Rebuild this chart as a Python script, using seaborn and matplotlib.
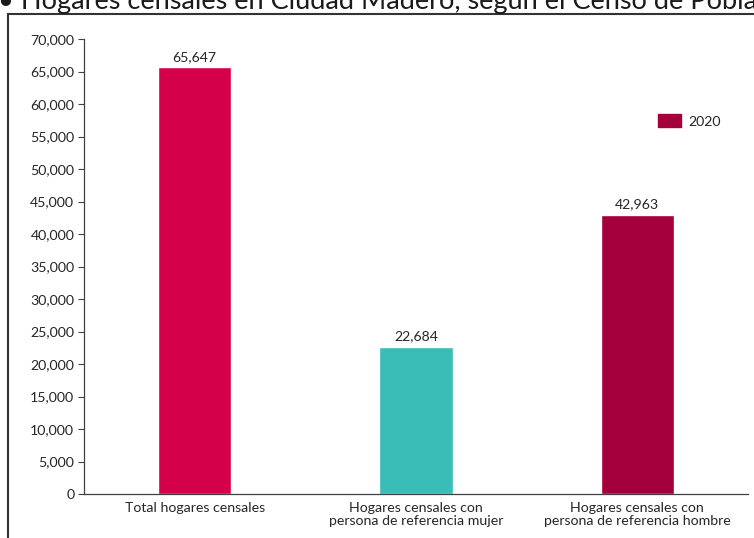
import matplotlib
matplotlib.use("Agg")
import matplotlib.pyplot as plt
import seaborn as sns
import pandas as pd
from matplotlib.patches import Patch, Rectangle
from matplotlib.ticker import FuncFormatter, MultipleLocator

categories = ["Total hogares censales",
              "Hogares censales con\npersona de referencia mujer",
              "Hogares censales con\npersona de referencia hombre"]
values = [65647, 22684, 42963]
colors = ["#D5004A", "#3BBDB7", "#A4003C"]
legend_label = "2020"
title = "• Hogares censales en Ciudad Madero, según el Censo de Población y Vivienda 2020"

sns.set_theme(style="white")
plt.rcParams['font.family'] = ['Lato', 'DejaVu Sans']

FS = 10.2
fig = plt.figure(figsize=(7.54, 5.38), dpi=100)
ax = fig.add_axes([84/754, 1-494/538, (748-84)/754, (494-39)/538])

df = pd.DataFrame({"cat": categories, "val": values})
sns.barplot(data=df, x="cat", y="val", hue="cat", palette=colors, legend=False,
            width=0.33, ax=ax, saturation=1)

for i, v in enumerate(values):
    ax.text(i, v + 700, f"{v:,}", ha="center", va="bottom", fontsize=FS, color="#262626")

ax.set_ylim(0, 70000)
ax.yaxis.set_major_locator(MultipleLocator(5000))
ax.yaxis.set_major_formatter(FuncFormatter(lambda x, p: f"{int(x):,}"))
ax.set_xlabel("")
ax.set_ylabel("")
for s in ["top", "right"]:
    ax.spines[s].set_visible(False)
for s in ["left", "bottom"]:
    ax.spines[s].set_color("#404040")
    ax.spines[s].set_linewidth(0.9)
ax.tick_params(axis="y", left=True, length=4, width=0.8, color="#404040",
               labelsize=FS, labelcolor="#262626", pad=3)
ax.tick_params(axis="x", bottom=False, labelsize=FS, labelcolor="#262626", pad=0)
for lbl in ax.get_xticklabels():
    lbl.set_linespacing(1.1)

ax.legend(handles=[Patch(color=colors[2], label=legend_label)], loc="center",
          bbox_to_anchor=(0.912, 0.82), frameon=False, fontsize=FS,
          handlelength=1.6, handleheight=1.05, handletextpad=0.5)

fig.patches.append(Rectangle((8/754, -0.05), 1.0, 1-14/538+0.05, transform=fig.transFigure,
                             fill=False, edgecolor="#333333", linewidth=1.5))
fig.text(-0.002, 1-9/538, title, ha="left", va="baseline", fontsize=19.5, color="#1a1a1a")

fig.savefig("out.png", dpi=100)
